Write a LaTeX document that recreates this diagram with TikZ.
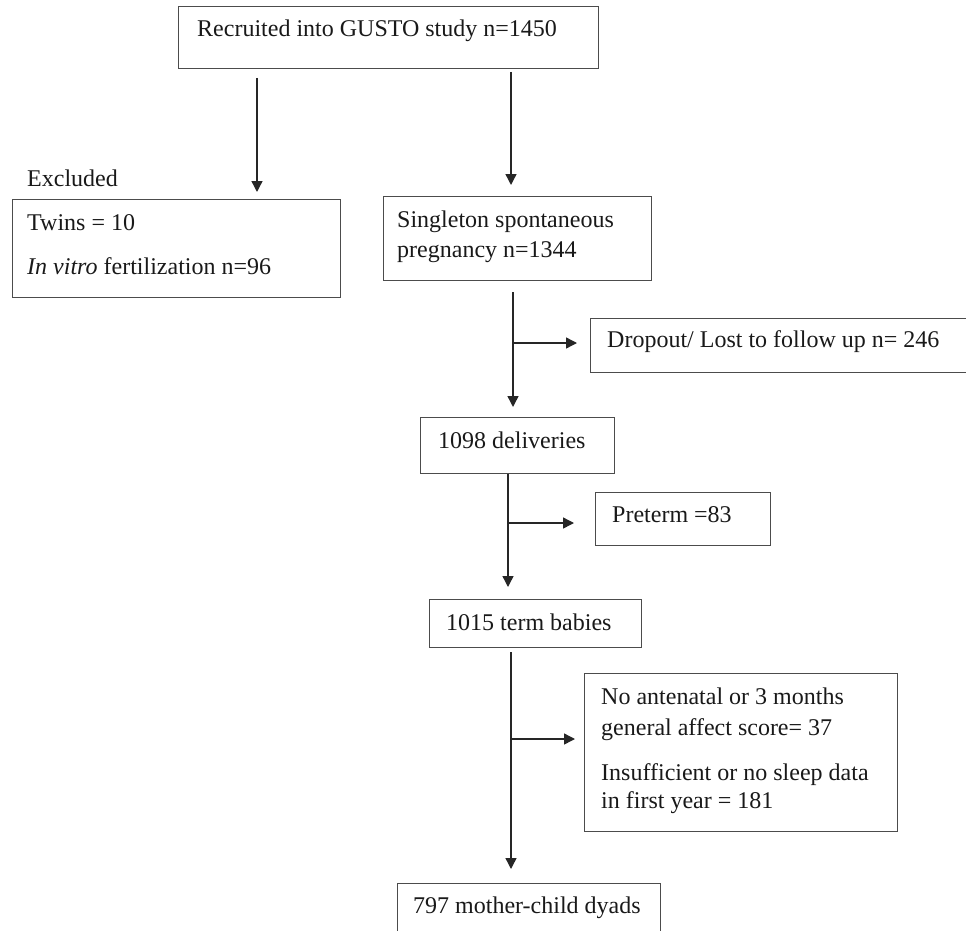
\documentclass[tikz,border=0pt]{standalone}
\usepackage{fontspec}
\setmainfont{Liberation Serif}
\usetikzlibrary{arrows.meta}
\begin{document}
\begin{tikzpicture}[x=1pt,y=-1pt,
  box/.style={draw=black!70, line width=1.4pt, anchor=north west, inner sep=0pt, rectangle},
  lbl/.style={anchor=base west, inner sep=0pt, text=black!90, font=\fontsize{24}{30}\selectfont},
  arr/.style={draw=black!85, line width=1.4pt, -{Triangle[length=11pt,width=11pt]}},
  ln/.style={draw=black!85, line width=1.4pt}]
\useasboundingbox (0,0) rectangle (966,931);
% boxes
\node[box, minimum width=420pt, minimum height=62pt] (top) at (178,6) {};
\node[box, minimum width=328pt, minimum height=98pt] (excl) at (12,199) {};
\node[box, minimum width=268pt, minimum height=84pt] (single) at (383,196) {};
\node[box, minimum width=388pt, minimum height=54pt] (drop) at (590,318) {};
\node[box, minimum width=194pt, minimum height=56pt] (deliv) at (420,417) {};
\node[box, minimum width=175pt, minimum height=53pt] (pre) at (595,492) {};
\node[box, minimum width=212pt, minimum height=48pt] (term) at (429,599) {};
\node[box, minimum width=313pt, minimum height=158pt] (noant) at (584,673) {};
\node[box, minimum width=263pt, minimum height=60pt] (dyads) at (397,883) {};
% texts
\node[lbl] (ttop) at (197,37) {Recruited into GUSTO study n=1450};
\node[lbl] (texcl) at (27,186) {Excluded};
\node[lbl] (ttwins) at (27,230) {Twins = 10};
\node[lbl] (tivf) at (27,274) {\textit{In vitro} fertilization n=96};
\node[lbl] (ts1) at (397,227) {Singleton spontaneous};
\node[lbl] (ts2) at (397,257) {pregnancy n=1344};
\node[lbl] (tdrop) at (607,347) {Dropout/ Lost to follow up n= 246};
\node[lbl] (tdeliv) at (438,448) {1098 deliveries};
\node[lbl] (tpre) at (612,522) {Preterm =83};
\node[lbl] (tterm) at (446,630) {1015 term babies};
\node[lbl] (tn1) at (601,704) {No antenatal or 3 months};
\node[lbl] (tn2) at (601,735) {general affect score= 37};
\node[lbl] (tn3) at (601,780) {Insufficient or no sleep data};
\node[lbl] (tn4) at (601,808) {in first year = 181};
\node[lbl] (tdyads) at (413,913) {797 mother-child dyads};
% connector end points
\coordinate (a1s) at (257,78);  \coordinate (a1e) at (257,192);
\coordinate (a2s) at (511,72);  \coordinate (a2e) at (511,185);
\coordinate (a3s) at (513,292); \coordinate (a3e) at (513,407);
\coordinate (b3s) at (513,343); \coordinate (b3e) at (577,343);
\coordinate (a4e) at (508,587);
\coordinate (b4s) at (508,523); \coordinate (b4e) at (574,523);
\coordinate (a5s) at (511,652); \coordinate (a5e) at (511,869);
\coordinate (b5s) at (511,739); \coordinate (b5e) at (575,739);
% connectors
\draw[arr] (a1s) -- (a1e);
\draw[arr] (a2s) -- (a2e);
\draw[arr] (a3s) -- (a3e);
\draw[arr] (b3s) -- (b3e);
\draw[arr] (deliv.south -| a4e) -- (a4e);
\draw[arr] (b4s) -- (b4e);
\draw[arr] (a5s) -- (a5e);
\draw[arr] (b5s) -- (b5e);
\end{tikzpicture}
\end{document}
